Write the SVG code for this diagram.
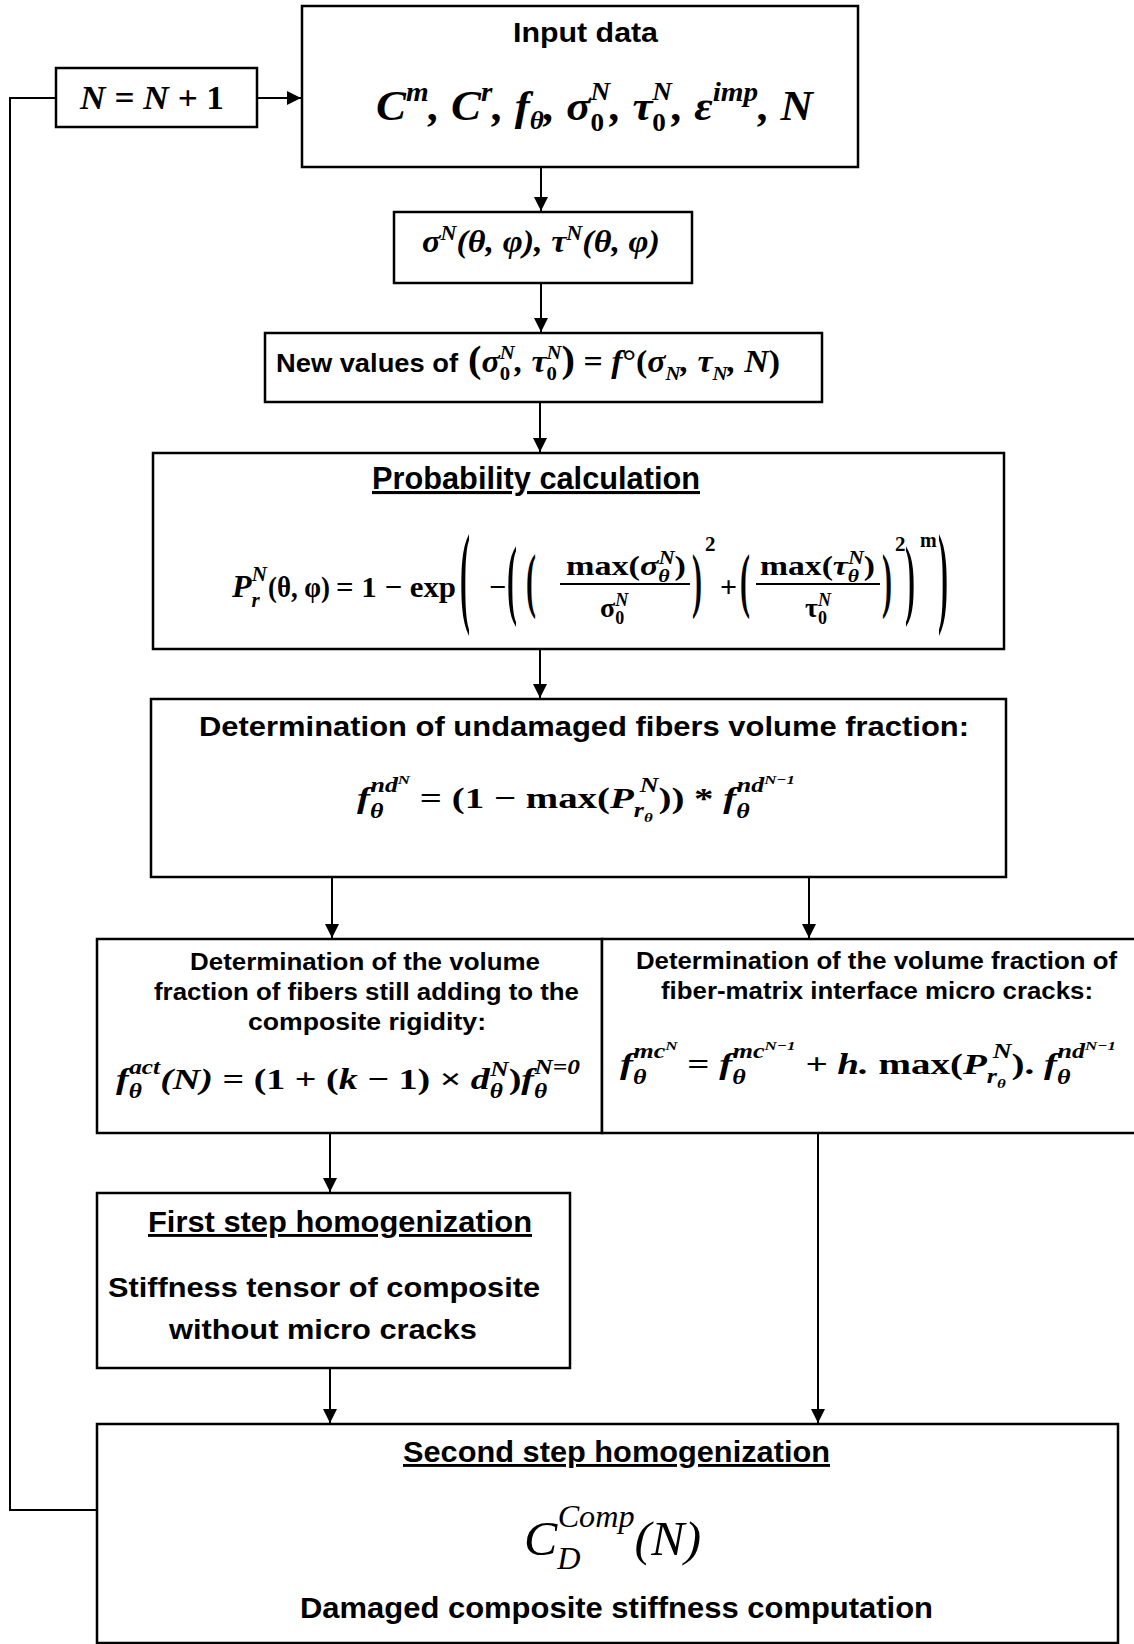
<svg xmlns="http://www.w3.org/2000/svg" width="1134" height="1644" viewBox="0 0 1134 1644">
<style>
.box{fill:#fff;stroke:#000;stroke-width:2.5}
.ln{fill:none;stroke:#000;stroke-width:2}
.m{font-family:"Liberation Serif","DejaVu Serif",serif;font-weight:bold;font-style:italic;fill:#000}
.u{font-family:"Liberation Serif","DejaVu Serif",serif;font-weight:bold;font-style:normal}
.d{font-family:"Liberation Serif","DejaVu Serif",serif;font-weight:bold;font-style:normal;fill:#000}
.t{font-family:"Liberation Sans",Arial,sans-serif;font-weight:bold;fill:#000}
.n{font-family:"Liberation Sans Narrow","Liberation Sans",Arial,sans-serif;font-weight:bold;fill:#000}
.ul{text-decoration:underline}
</style>
<defs>
<marker id="ah" markerUnits="userSpaceOnUse" markerWidth="14" markerHeight="14" viewBox="0 0 14 14" refX="14" refY="7" orient="auto">
<path d="M0,0 L14,7 L0,14 z" fill="#000"/>
</marker>
</defs>
<rect width="1134" height="1644" fill="#fff"/>

<g id="connectors">
<path class="ln" d="M257,98 L301,98" marker-end="url(#ah)"/>
<path class="ln" d="M541,167 L541,211" marker-end="url(#ah)"/>
<path class="ln" d="M541,283 L541,332" marker-end="url(#ah)"/>
<path class="ln" d="M540,402 L540,452" marker-end="url(#ah)"/>
<path class="ln" d="M540,649 L540,698" marker-end="url(#ah)"/>
<path class="ln" d="M332,877 L332,938" marker-end="url(#ah)"/>
<path class="ln" d="M809,877 L809,938" marker-end="url(#ah)"/>
<path class="ln" d="M330,1133 L330,1192" marker-end="url(#ah)"/>
<path class="ln" d="M330,1368 L330,1423" marker-end="url(#ah)"/>
<path class="ln" d="M818,1133 L818,1423" marker-end="url(#ah)"/>
<path class="ln" d="M97,1510 L10,1510 L10,98 L56,98"/>
</g>

<g id="node-counter">
<rect class="box" x="56" y="68" width="201" height="59"/>
<text class="m" x="80" y="109" font-size="33" textLength="144" lengthAdjust="spacingAndGlyphs">N = N + <tspan class="u">1</tspan></text>
</g>

<g id="node-input">
<rect class="box" x="302" y="6" width="556" height="161"/>
<text class="n" x="513" y="42" font-size="28" textLength="145" lengthAdjust="spacingAndGlyphs">Input data</text>
<text class="m" x="376" y="120" font-size="43" textLength="437" lengthAdjust="spacingAndGlyphs">C<tspan font-size="28" dy="-19">m</tspan><tspan dy="19">, C</tspan><tspan font-size="28" dy="-19">r</tspan><tspan dy="19">, f</tspan><tspan font-size="26" dy="9">θ</tspan><tspan dy="-9">, σ</tspan><tspan class="u" font-size="26" dy="11">0</tspan><tspan font-size="26" dx="-13" dy="-31">N</tspan><tspan dy="20">, τ</tspan><tspan class="u" font-size="26" dy="11">0</tspan><tspan font-size="26" dx="-13" dy="-31">N</tspan><tspan dy="20">, ε</tspan><tspan font-size="28" dy="-19">imp</tspan><tspan dy="19">, N</tspan></text>
</g>

<g id="node-stress">
<rect class="box" x="394" y="212" width="298" height="71"/>
<text class="m" x="422" y="252" font-size="31" textLength="238" lengthAdjust="spacingAndGlyphs">σ<tspan font-size="20" dy="-12">N</tspan><tspan dy="12">(θ, φ), τ</tspan><tspan font-size="20" dy="-12">N</tspan><tspan dy="12">(θ, φ)</tspan></text>
</g>

<g id="node-newvalues">
<rect class="box" x="265" y="333" width="557" height="69"/>
<text class="t" x="276" y="372" font-size="25" textLength="182" lengthAdjust="spacingAndGlyphs">New values of</text>
<text class="m" x="468" y="372" font-size="31" textLength="312" lengthAdjust="spacingAndGlyphs"><tspan class="u" font-size="37">(</tspan>σ<tspan class="u" font-size="19" dy="8">0</tspan><tspan font-size="19" dx="-9.5" dy="-21">N</tspan><tspan dy="13">, τ</tspan><tspan class="u" font-size="19" dy="8">0</tspan><tspan font-size="19" dx="-9.5" dy="-21">N</tspan><tspan class="u" font-size="37" dy="13">)</tspan><tspan class="u"> = </tspan>f<tspan class="u">°(</tspan>σ<tspan font-size="19" dy="8">N</tspan><tspan dy="-8">, τ</tspan><tspan font-size="19" dy="8">N</tspan><tspan dy="-8">, N</tspan><tspan class="u">)</tspan></text>
</g>

<g id="node-probability">
<rect class="box" x="153" y="453" width="851" height="196"/>
<text class="n ul" x="372" y="489" font-size="31" textLength="328" lengthAdjust="spacingAndGlyphs">Probability calculation</text>
<text class="m" x="232" y="597" font-size="32">P<tspan font-size="21" dy="10">r</tspan><tspan font-size="21" dx="-8" dy="-26">N</tspan></text>
<text class="u" x="268" y="597" font-size="30" textLength="62" lengthAdjust="spacingAndGlyphs">(θ, φ)</text>
<text class="u" x="336" y="597" font-size="30" textLength="120" lengthAdjust="spacingAndGlyphs">= 1 − exp</text>
<text class="d" font-size="30" transform="translate(460,611.5) scale(1,3.74)">(</text>
<text class="u" x="489" y="597" font-size="30">−</text>
<text class="d" font-size="30" transform="translate(507,608) scale(1,2.93)">(</text>
<text class="d" font-size="30" transform="translate(526,604) scale(1,2.42)">(</text>
<text class="m" x="566" y="575" font-size="28" textLength="120" lengthAdjust="spacingAndGlyphs"><tspan class="u">max(</tspan>σ<tspan font-size="18" dy="7">θ</tspan><tspan font-size="18" dx="-9" dy="-18">N</tspan><tspan class="u" dy="11">)</tspan></text>
<line class="ln" x1="560" y1="584" x2="690" y2="584" stroke-width="1.6"/>
<text class="m" x="600" y="617" font-size="28"><tspan class="u">σ</tspan><tspan class="u" font-size="18" dy="7">0</tspan><tspan font-size="18" dx="-9" dy="-18">N</tspan></text>
<text class="d" font-size="30" transform="translate(692,604) scale(1,2.42)">)</text>
<text class="u" x="705" y="551" font-size="21">2</text>
<text class="u" x="720" y="597" font-size="30">+</text>
<text class="d" font-size="30" transform="translate(740,604) scale(1,2.42)">(</text>
<text class="m" x="760" y="575" font-size="28" textLength="115" lengthAdjust="spacingAndGlyphs"><tspan class="u">max(</tspan>τ<tspan font-size="18" dy="7">θ</tspan><tspan font-size="18" dx="-9" dy="-18">N</tspan><tspan class="u" dy="11">)</tspan></text>
<line class="ln" x1="756" y1="584" x2="880" y2="584" stroke-width="1.6"/>
<text class="m" x="805" y="617" font-size="28"><tspan class="u">τ</tspan><tspan class="u" font-size="18" dy="7">0</tspan><tspan font-size="18" dx="-9" dy="-18">N</tspan></text>
<text class="d" font-size="30" transform="translate(882,604) scale(1,2.42)">)</text>
<text class="u" x="895" y="551" font-size="21">2</text>
<text class="d" font-size="30" transform="translate(905,608) scale(1,2.93)">)</text>
<text class="u" x="920" y="547" font-size="20">m</text>
<text class="d" font-size="30" transform="translate(938,611.5) scale(1,3.74)">)</text>
</g>

<g id="node-undamaged">
<rect class="box" x="151" y="699" width="855" height="178"/>
<text class="t" x="199" y="736" font-size="27" textLength="770" lengthAdjust="spacingAndGlyphs">Determination of undamaged fibers volume fraction:</text>
<text class="m" x="357" y="808" font-size="30" textLength="438" lengthAdjust="spacingAndGlyphs">f<tspan font-size="20" dy="10">θ</tspan><tspan font-size="20" dx="-10" dy="-26">nd</tspan><tspan font-size="13" dy="-8">N</tspan><tspan class="u" dy="24"> = (1 − max(</tspan>P<tspan font-size="20" dy="9">r</tspan><tspan font-size="13" dy="5">θ</tspan><tspan font-size="20" dx="-10" dy="-30">N</tspan><tspan class="u" dy="16">)) * </tspan>f<tspan font-size="20" dy="10">θ</tspan><tspan font-size="20" dx="-10" dy="-26">nd</tspan><tspan font-size="13" dy="-8">N−1</tspan></text>
</g>

<g id="node-active">
<rect class="box" x="97" y="939" width="505" height="194"/>
<text class="t" x="190" y="970" font-size="23" textLength="350" lengthAdjust="spacingAndGlyphs">Determination of the volume</text>
<text class="t" x="154" y="1000" font-size="23" textLength="425" lengthAdjust="spacingAndGlyphs">fraction of fibers still adding to the</text>
<text class="t" x="248" y="1030" font-size="23" textLength="238" lengthAdjust="spacingAndGlyphs">composite rigidity:</text>
<text class="m" x="116" y="1089" font-size="30" textLength="464" lengthAdjust="spacingAndGlyphs">f<tspan font-size="20" dy="9">θ</tspan><tspan font-size="20" dx="-10" dy="-24">act</tspan><tspan dy="15">(N) </tspan><tspan class="u">= (1 + (</tspan>k<tspan class="u"> − 1) × </tspan>d<tspan font-size="20" dy="9">θ</tspan><tspan font-size="20" dx="-10" dy="-22">N</tspan><tspan class="u" dy="13">)</tspan>f<tspan font-size="20" dy="9">θ</tspan><tspan font-size="20" dx="-10" dy="-24">N=0</tspan></text>
</g>

<g id="node-microcracks">
<rect class="box" x="602" y="939" width="545" height="194"/>
<text class="t" x="636" y="969" font-size="23" textLength="481" lengthAdjust="spacingAndGlyphs">Determination of the volume fraction of</text>
<text class="t" x="661" y="999" font-size="23" textLength="432" lengthAdjust="spacingAndGlyphs">fiber-matrix interface micro cracks:</text>
<text class="m" x="620" y="1074" font-size="30" textLength="496" lengthAdjust="spacingAndGlyphs">f<tspan font-size="20" dy="10">θ</tspan><tspan font-size="20" dx="-10" dy="-26">mc</tspan><tspan font-size="13" dy="-8">N</tspan><tspan class="u" dy="24"> = </tspan>f<tspan font-size="20" dy="10">θ</tspan><tspan font-size="20" dx="-10" dy="-26">mc</tspan><tspan font-size="13" dy="-8">N−1</tspan><tspan dy="24"> + h. </tspan><tspan class="u">max(</tspan>P<tspan font-size="20" dy="9">r</tspan><tspan font-size="13" dy="5">θ</tspan><tspan font-size="20" dx="-10" dy="-30">N</tspan><tspan class="u" dy="16">). </tspan>f<tspan font-size="20" dy="10">θ</tspan><tspan font-size="20" dx="-10" dy="-26">nd</tspan><tspan font-size="13" dy="-8">N−1</tspan></text>
</g>

<g id="node-first-step">
<rect class="box" x="97" y="1193" width="473" height="175"/>
<text class="n ul" x="148" y="1232" font-size="29" textLength="384" lengthAdjust="spacingAndGlyphs">First step homogenization</text>
<text class="t" x="108" y="1297" font-size="28" textLength="432" lengthAdjust="spacingAndGlyphs">Stiffness tensor of composite</text>
<text class="t" x="169" y="1339" font-size="28" textLength="308" lengthAdjust="spacingAndGlyphs">without micro cracks</text>
</g>

<g id="node-second-step">
<rect class="box" x="97" y="1424" width="1021" height="219"/>
<text class="n ul" x="403" y="1462" font-size="29" textLength="427" lengthAdjust="spacingAndGlyphs">Second step homogenization</text>
<text x="524" y="1555" font-family="Liberation Serif, serif" font-style="italic" font-size="48" textLength="177" lengthAdjust="spacingAndGlyphs">C<tspan font-size="31" dy="14">D</tspan><tspan font-size="31" dx="-22" dy="-42">Comp</tspan><tspan dy="28">(N)</tspan></text>
<text class="n" x="300" y="1618" font-size="30" textLength="633" lengthAdjust="spacingAndGlyphs">Damaged composite stiffness computation</text>
</g>
</svg>
